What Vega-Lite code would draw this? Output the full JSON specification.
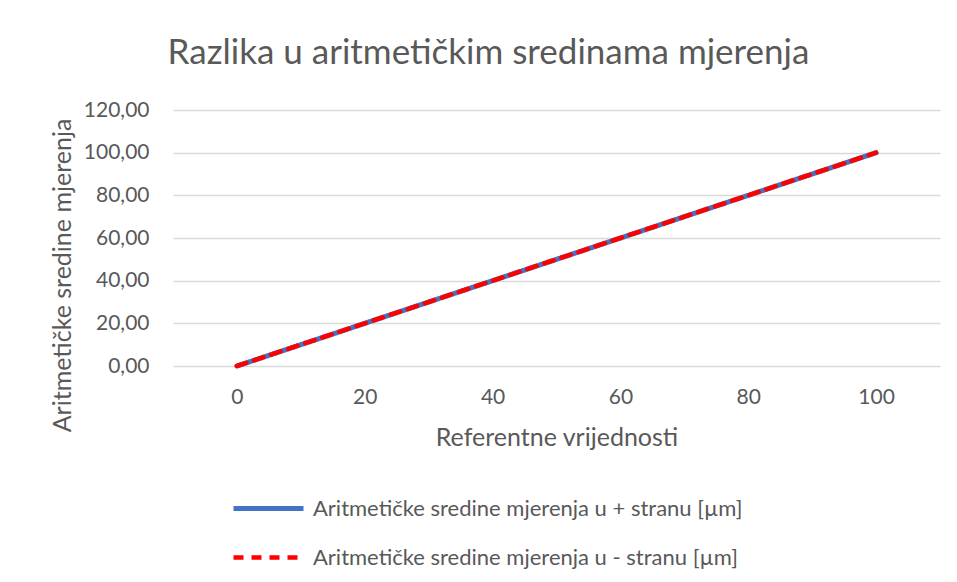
{
  "$schema": "https://vega.github.io/schema/vega-lite/v6.json",
  "width": 767,
  "height": 256,
  "autosize": "none",
  "padding": {"left": 173, "top": 110, "right": 17, "bottom": 216},
  "background": "white",
  "title": {
    "text": "Razlika u aritmetičkim sredinama mjerenja",
    "font": "Lato",
    "fontSize": 35,
    "fontWeight": "normal",
    "color": "#595959",
    "anchor": "middle",
    "frame": "group",
    "dx": -68,
    "offset": 28
  },
  "data": {
    "values": [
      {"x": 0, "y": 0, "s": "Aritmetičke sredine mjerenja u + stranu [µm]"},
      {"x": 10, "y": 10, "s": "Aritmetičke sredine mjerenja u + stranu [µm]"},
      {"x": 20, "y": 20, "s": "Aritmetičke sredine mjerenja u + stranu [µm]"},
      {"x": 30, "y": 30, "s": "Aritmetičke sredine mjerenja u + stranu [µm]"},
      {"x": 40, "y": 40, "s": "Aritmetičke sredine mjerenja u + stranu [µm]"},
      {"x": 50, "y": 50, "s": "Aritmetičke sredine mjerenja u + stranu [µm]"},
      {"x": 60, "y": 60, "s": "Aritmetičke sredine mjerenja u + stranu [µm]"},
      {"x": 70, "y": 70, "s": "Aritmetičke sredine mjerenja u + stranu [µm]"},
      {"x": 80, "y": 80, "s": "Aritmetičke sredine mjerenja u + stranu [µm]"},
      {"x": 90, "y": 90, "s": "Aritmetičke sredine mjerenja u + stranu [µm]"},
      {"x": 100, "y": 100, "s": "Aritmetičke sredine mjerenja u + stranu [µm]"},
      {"x": 0, "y": 0, "s": "Aritmetičke sredine mjerenja u - stranu [µm]"},
      {"x": 10, "y": 10, "s": "Aritmetičke sredine mjerenja u - stranu [µm]"},
      {"x": 20, "y": 20, "s": "Aritmetičke sredine mjerenja u - stranu [µm]"},
      {"x": 30, "y": 30, "s": "Aritmetičke sredine mjerenja u - stranu [µm]"},
      {"x": 40, "y": 40, "s": "Aritmetičke sredine mjerenja u - stranu [µm]"},
      {"x": 50, "y": 50, "s": "Aritmetičke sredine mjerenja u - stranu [µm]"},
      {"x": 60, "y": 60, "s": "Aritmetičke sredine mjerenja u - stranu [µm]"},
      {"x": 70, "y": 70, "s": "Aritmetičke sredine mjerenja u - stranu [µm]"},
      {"x": 80, "y": 80, "s": "Aritmetičke sredine mjerenja u - stranu [µm]"},
      {"x": 90, "y": 90, "s": "Aritmetičke sredine mjerenja u - stranu [µm]"},
      {"x": 100, "y": 100, "s": "Aritmetičke sredine mjerenja u - stranu [µm]"}
    ]
  },
  "mark": {"type": "line", "strokeCap": "round"},
  "encoding": {
    "x": {
      "field": "x",
      "type": "quantitative",
      "scale": {"domain": [-10, 110], "nice": false, "zero": false},
      "axis": {
        "title": "Referentne vrijednosti",
        "values": [0, 20, 40, 60, 80, 100],
        "grid": false,
        "domain": false,
        "ticks": false,
        "labelPadding": 20,
        "titleY": 71,
        "titleBaseline": "middle"
      }
    },
    "y": {
      "field": "y",
      "type": "quantitative",
      "scale": {"domain": [0, 120], "nice": false},
      "axis": {
        "title": "Aritmetičke sredine mjerenja",
        "values": [0, 20, 40, 60, 80, 100, 120],
        "labelExpr": "replace(format(datum.value, '.2f'), '.', ',')",
        "grid": true,
        "gridColor": "#d9d9d9",
        "gridWidth": 1.3,
        "domain": false,
        "ticks": false,
        "labelPadding": 24,
        "titleX": -111,
        "titleY": 165,
        "titleBaseline": "middle",
        "titleAngle": -90
      }
    },
    "color": {
      "field": "s",
      "type": "nominal",
      "scale": {"range": ["#4472C4", "#FF0000"]},
      "legend": {
        "title": null,
        "orient": "none",
        "legendX": 58,
        "legendY": 361,
        "symbolType": "stroke",
        "symbolSize": 4900,
        "symbolStrokeWidth": 5,
        "labelOffset": 7,
        "rowPadding": -33
      }
    },
    "strokeDash": {
      "field": "s",
      "type": "nominal",
      "scale": {"range": [[1, 0], [10, 8]]},
      "legend": {
        "title": null,
        "orient": "none",
        "legendX": 58,
        "legendY": 361,
        "symbolType": "stroke",
        "symbolSize": 4900,
        "symbolStrokeWidth": 5,
        "labelOffset": 7,
        "rowPadding": -33
      }
    },
    "strokeWidth": {
      "field": "s",
      "type": "nominal",
      "scale": {"range": [5, 4.5]},
      "legend": null
    }
  },
  "config": {
    "view": {"stroke": null},
    "axis": {
      "labelFont": "Lato",
      "labelFontSize": 21,
      "labelColor": "#595959",
      "titleFont": "Lato",
      "titleFontSize": 25,
      "titleFontWeight": "normal",
      "titleColor": "#595959"
    },
    "legend": {
      "labelFont": "Lato",
      "labelFontSize": 22,
      "labelColor": "#595959",
      "labelLimit": 600
    }
  }
}
